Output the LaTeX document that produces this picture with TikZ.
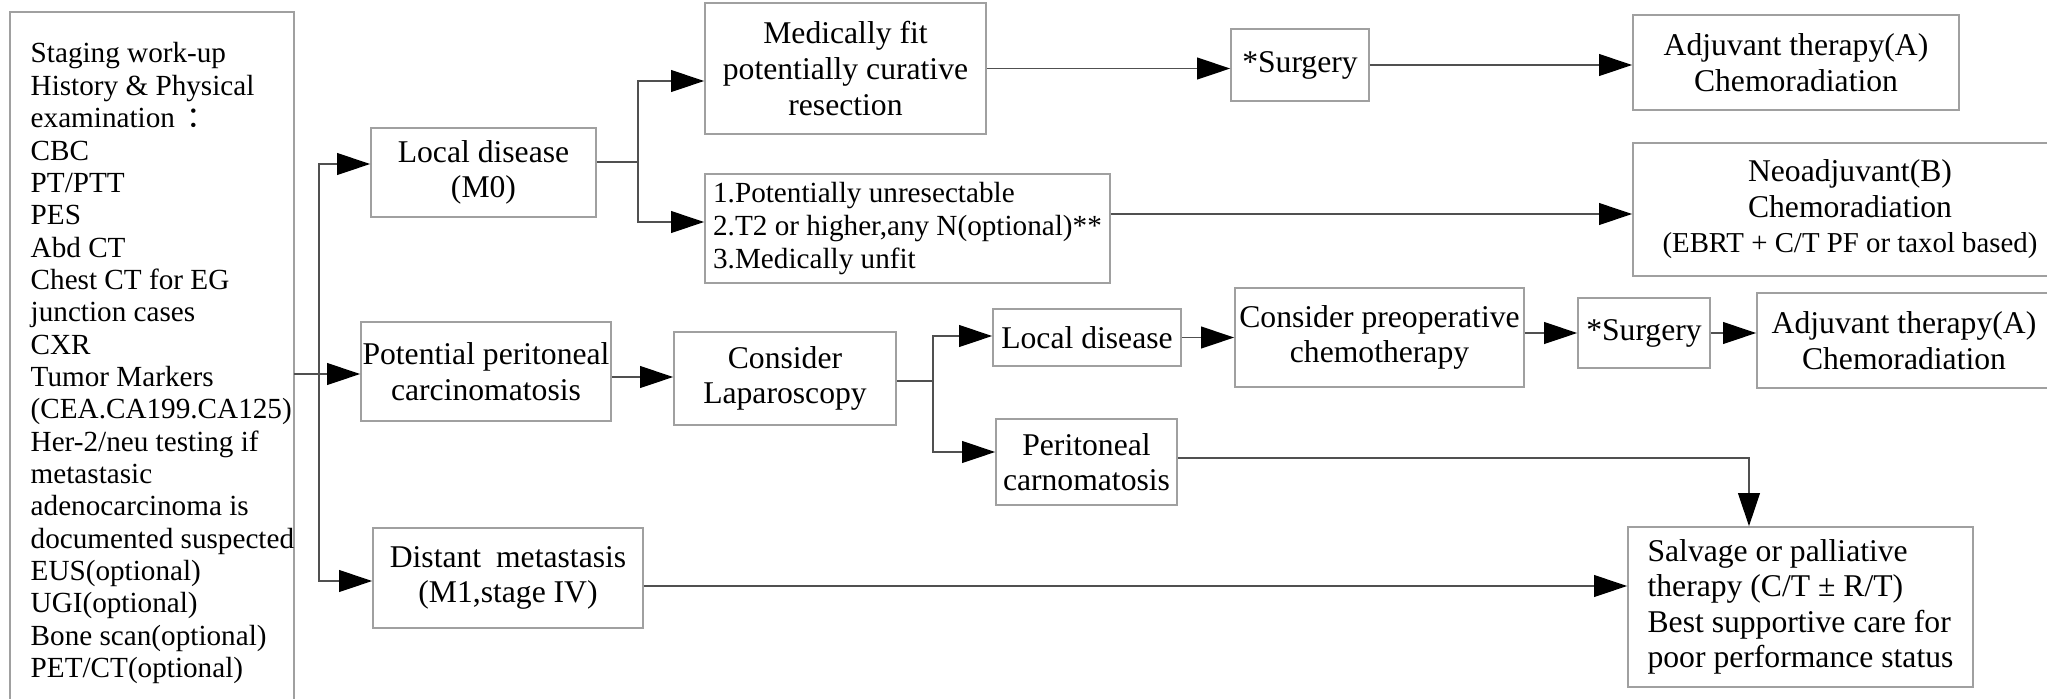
\documentclass[tikz,border=0pt]{standalone}
\usepackage{fontspec}
\setmainfont{Liberation Serif}
\newfontfamily\cjkfont{Noto Sans CJK SC}
\usetikzlibrary{arrows.meta}
\definecolor{framegray}{RGB}{160,160,160}
\definecolor{linegray}{RGB}{80,80,80}

\begin{document}
\begin{tikzpicture}[x = .01cm, y = -.01cm,
	box/.style = {draw = framegray, line width = .45pt, inner sep = 0pt, align = center, font = \fontsize{9}{10.1}\selectfont},
	arr/.style = {draw = linegray, line width = .45pt, -{Triangle[length = 9.4pt, width = 6.2pt, color = black]}},
	ln/.style = {draw = linegray, line width = .45pt}]
	\useasboundingbox (0,0) rectangle (2047,699);
	\draw[box] (10,699) |- (294,12) -- (294,699);
	\node[anchor = north west, inner sep = 0pt, align = left, font = \fontsize{8.3}{9.2}\selectfont] (stage) at (30,42) {Staging work-up\\History \& Physical\\examination\hspace{.4em}{\cjkfont ：}\\CBC\\PT/PTT\\PES\\Abd CT\\Chest CT for EG\\junction cases\\CXR\\Tumor Markers\\(CEA.CA199.CA125)\\Her-2/neu testing if\\metastasic\\adenocarcinoma is\\documented suspected\\EUS(optional)\\UGI(optional)\\Bone scan(optional)\\PET/CT(optional)};
	\node[box, minimum width = 2.25cm, minimum height = .89cm] (loc) at (483.5,172.5) {Local disease\\(M0)};
	\node[box, minimum width = 2.81cm, minimum height = 1.31cm] (fit) at (845.5,68.5) {Medically fit\\potentially curative\\resection};
	\node[box, align = left, minimum width = 4.05cm, minimum height = 1.09cm, font = \fontsize{8.3}{9.4}\selectfont] (unres) at (907.5,228.5) {1.Potentially unresectable\\2.T2 or higher,any N(optional)**\\3.Medically unfit};
	\node[box, minimum width = 1.38cm, minimum height = .72cm] (surg1) at (1300,65) {*Surgery};
	\node[box, minimum width = 3.26cm, minimum height = .95cm] (adj1) at (1796,62.5) {Adjuvant therapy(A)\\Chemoradiation};
	\node[box, minimum width = 4.34cm, minimum height = 1.33cm] (neo) at (1850,209.5) {Neoadjuvant(B)\\Chemoradiation\\{\fontsize{8.2}{10.1}\selectfont (EBRT + C/T PF or taxol based)}};
	\node[box, minimum width = 2.5cm, minimum height = .99cm] (pot) at (486,371.5) {Potential peritoneal\\carcinomatosis};
	\node[box, minimum width = 2.22cm, minimum height = .93cm] (lap) at (785,378.5) {Consider\\Laparoscopy};
	\node[box, minimum width = 1.88cm, minimum height = .57cm] (loc2) at (1087,337.5) {Local disease};
	\node[box, minimum width = 1.81cm, minimum height = .86cm] (perit) at (1086.5,462) {Peritoneal\\carnomatosis};
	\node[box, minimum width = 2.89cm, minimum height = .99cm] (preop) at (1379.5,337.5) {Consider preoperative\\chemotherapy};
	\node[box, minimum width = 1.32cm, minimum height = .7cm] (surg2) at (1644,333) {*Surgery};
	\node[box, minimum width = 2.94cm, minimum height = .95cm] (adj2) at (1904,340.5) {Adjuvant therapy(A)\\Chemoradiation};
	\node[box, minimum width = 2.7cm, minimum height = 1cm] (dist) at (508,578) {Distant\hspace{.47em}metastasis\\(M1,stage IV)};
	\node[box, align = left, minimum width = 3.45cm, minimum height = 1.6cm] (salv) at (1800.5,607) {Salvage or palliative\\therapy (C/T ± R/T)\\Best supportive care for\\poor performance status};
	\coordinate (stgout) at (294,374);
	\coordinate (trtop) at (319,164);
	\coordinate (trbot) at (319,581);
	\draw[arr] (stgout) -- (stgout -| pot.west);
	\draw[arr] (trbot) |- (trtop -| loc.west);
	\draw[arr] (trtop) |- (trbot -| dist.west);
	\coordinate (locsplit) at (638,162);
	\draw[ln] (loc.east |- locsplit) -- (locsplit);
	\draw[arr] (locsplit) |- (fit.west |- 0,81);
	\draw[arr] (locsplit) |- (unres.west |- 0,222);
	\draw[arr] (fit.east) -- (fit.east -| surg1.west);
	\draw[arr] (surg1.east) -- (surg1.east -| adj1.west);
	\draw[arr] (unres.east |- 0,214) -- (neo.west |- 0,214);
	\draw[arr] (pot.east |- 0,377) -- (lap.west |- 0,377);
	\coordinate (lapsplit) at (933,381);
	\draw[ln] (lap.east |- lapsplit) -- (lapsplit);
	\draw[arr] (lapsplit) |- (loc2.west |- 0,336);
	\draw[arr] (lapsplit) |- (perit.west |- 0,452);
	\draw[arr] (loc2.east) -- (loc2.east -| preop.west);
	\draw[arr] (surg2.west -| preop.east) -- (surg2.west);
	\draw[arr] (surg2.east) -- (surg2.east -| adj2.west);
	\draw[arr] (perit.east |- 0,458) -| (salv.north -| 1749,0);
	\draw[arr] (dist.east |- 0,586) -- (salv.west |- 0,586);
\end{tikzpicture}
\end{document}
